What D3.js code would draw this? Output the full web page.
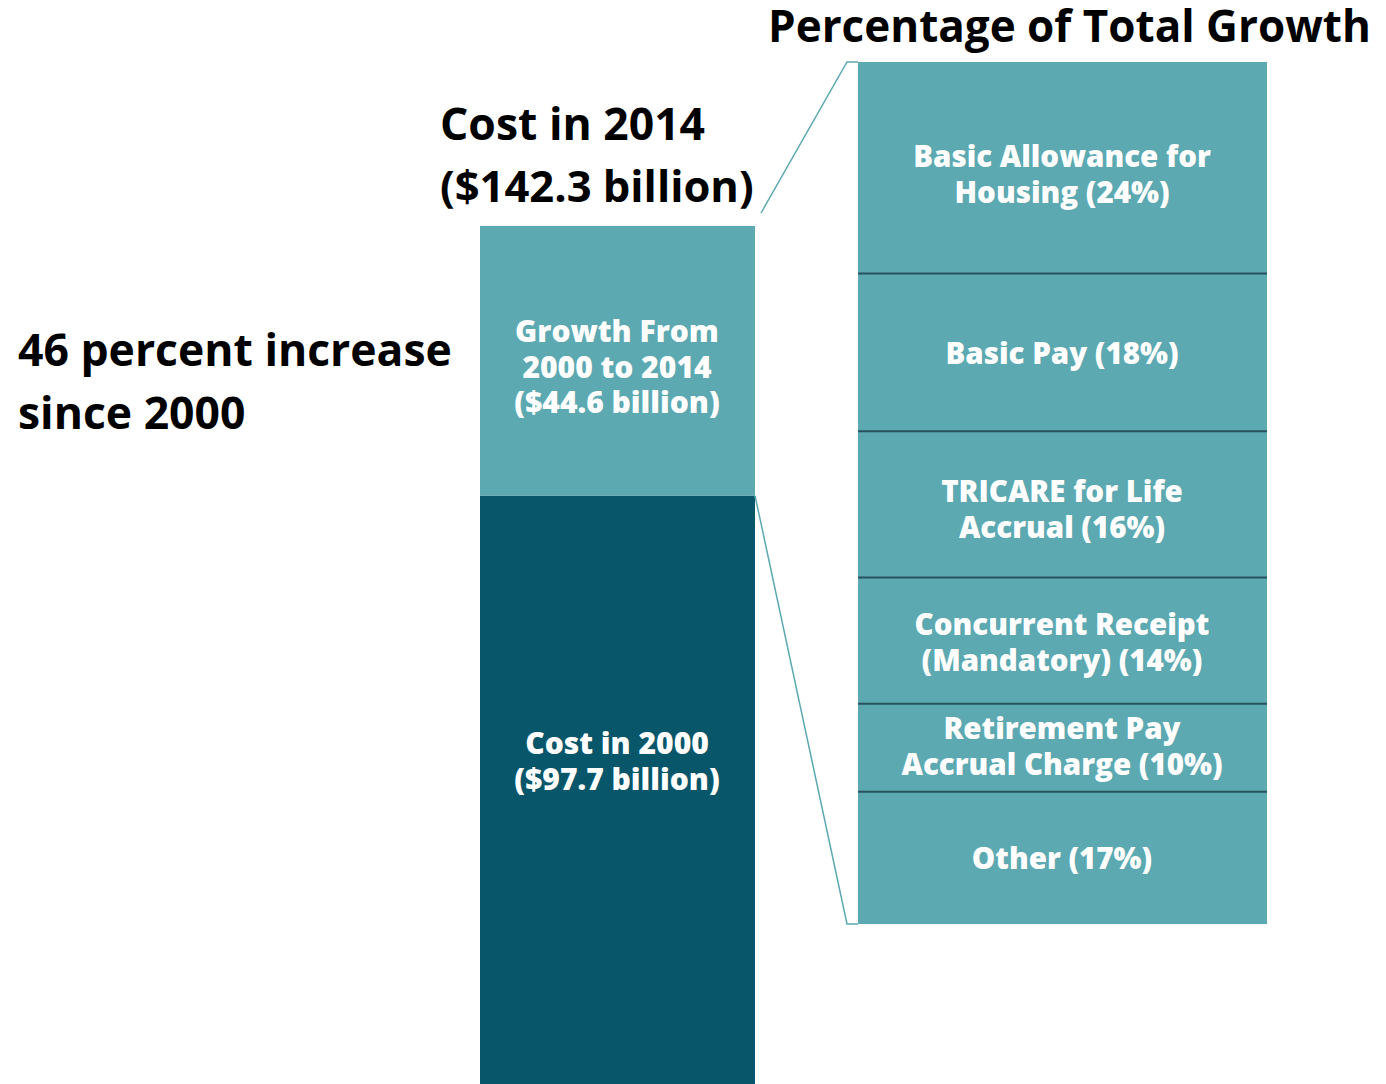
<!DOCTYPE html>
<html>
<head>
<meta charset="utf-8">
<script src="https://cdn.jsdelivr.net/npm/d3@7"></script>
<style>
  body { margin: 0; background: #fff; }
  svg { display: block; font-family: "Open Sans", Lato, sans-serif; font-weight: 700; }
  .inbar { font-weight: 800; }
</style>
</head>
<body>
<svg></svg>
<script>
const size = {w: 1386, h: 1084};
const teal = '#5ca9b1';
const darkTeal = '#08566a';
const divider = '#27535e';

// left bar: cost in 2000 plus growth to 2014 (billions)
const costStages = ['Cost in 2000', 'Growth'];
const costValues = [97.7, 44.6];
const costLabels = [['Cost in 2000', '($97.7 billion)'], ['Growth From', '2000 to 2014', '($44.6 billion)']];

// right bar: share of growth, labels and drawn heights
const growthParts = [
    ['Basic Allowance for', 'Housing (24%)'],
    ['Basic Pay (18%)'],
    ['TRICARE for Life', 'Accrual (16%)'],
    ['Concurrent Receipt', '(Mandatory) (14%)'],
    ['Retirement Pay', 'Accrual Charge (10%)'],
    ['Other (17%)']
];
const growthShares = [24.3, 18.1, 16.8, 14.5, 10.1, 15.2];

const svg = d3.select('svg').attr('width', size.w).attr('height', size.h);

// ---- left stacked bar
const total = d3.sum(costValues);
const yLeft = d3.scaleLinear().domain([0, total]).range([1086, 226]);
const xLeft = {x0: 480, x1: 755};

let acc = 0;
const leftStack = costValues.map((v, i) => {
    const d = {key: costStages[i], lines: costLabels[i], y0: acc, y1: acc + v};
    acc += v;
    return d;
});

const leftG = svg.append('g');
leftG.selectAll('rect')
    .data(leftStack)
    .join('rect')
    .attr('x', xLeft.x0)
    .attr('width', xLeft.x1 - xLeft.x0)
    .attr('y', d => yLeft(d.y1))
    .attr('height', d => yLeft(d.y0) - yLeft(d.y1))
    .attr('fill', (d, i) => i === 0 ? darkTeal : teal);

function multiLine(g, lines, cx, cy, lh, fs) {
    const t = g.append('text')
        .classed('inbar', true)
        .attr('text-anchor', 'middle')
        .attr('fill', '#fff')
        .style('font-size', fs + 'px');
    lines.forEach((l, i) => {
        t.append('tspan')
            .attr('x', cx)
            .attr('y', cy + (i - (lines.length - 1) / 2) * lh)
            .attr('dy', '0.35em')
            .text(l);
    });
}

multiLine(leftG, leftStack[1].lines, 617, 367, 35.5, 30);
multiLine(leftG, leftStack[0].lines, 617, 761, 36, 30);

// ---- right stacked bar
const yRight = d3.scaleLinear().domain([0, d3.sum(growthShares)]).range([62, 924]);
const xRight = {x0: 858, x1: 1267};
acc = 0;
const rightStack = growthShares.map((v, i) => {
    const d = {lines: growthParts[i], y0: acc, y1: acc + v};
    acc += v;
    return d;
});

const rightG = svg.append('g');
rightG.selectAll('rect')
    .data(rightStack)
    .join('rect')
    .attr('x', xRight.x0)
    .attr('width', xRight.x1 - xRight.x0)
    .attr('y', d => yRight(d.y0))
    .attr('height', d => yRight(d.y1) - yRight(d.y0))
    .attr('fill', teal);

rightG.selectAll('line.div')
    .data(rightStack.slice(1))
    .join('line')
    .classed('div', true)
    .attr('x1', xRight.x0).attr('x2', xRight.x1)
    .attr('y1', d => yRight(d.y0)).attr('y2', d => yRight(d.y0))
    .attr('stroke', divider)
    .attr('stroke-width', 2);

const labelOffsets = [7, 1, 5, 2, -1, 1];
rightStack.forEach((d, i) => {
    const cy = (yRight(d.y0) + yRight(d.y1)) / 2 + labelOffsets[i];
    multiLine(rightG, d.lines, 1062, cy, 36, 29.5);
});

// ---- connector lines
const conn = svg.append('g').attr('fill', 'none').attr('stroke', teal).attr('stroke-width', 1.5);
conn.append('path')
    .attr('d', `M761,${yLeft(total) - 13} L847,${yRight(0)} L${xRight.x0},${yRight(0)}`);
conn.append('path')
    .attr('d', `M${xLeft.x1},${yLeft(costValues[0])} L847,${yRight(d3.sum(growthShares))} L${xRight.x0},${yRight(d3.sum(growthShares))}`);

// ---- black annotations
const ann = svg.append('g').attr('fill', '#000');
ann.append('text').attr('x', 768).attr('y', 42).style('font-size', '44px')
    .text('Percentage of Total Growth');
ann.append('text').attr('x', 440).attr('y', 140).style('font-size', '44.5px')
    .text('Cost in 2014');
ann.append('text').attr('x', 440).attr('y', 202).style('font-size', '43.5px')
    .text('($142.3 billion)');
ann.append('text').attr('x', 18).attr('y', 366).style('font-size', '44.5px')
    .text('46 percent increase');
ann.append('text').attr('x', 18).attr('y', 429).style('font-size', '44.5px')
    .text('since 2000');
</script>
</body>
</html>
